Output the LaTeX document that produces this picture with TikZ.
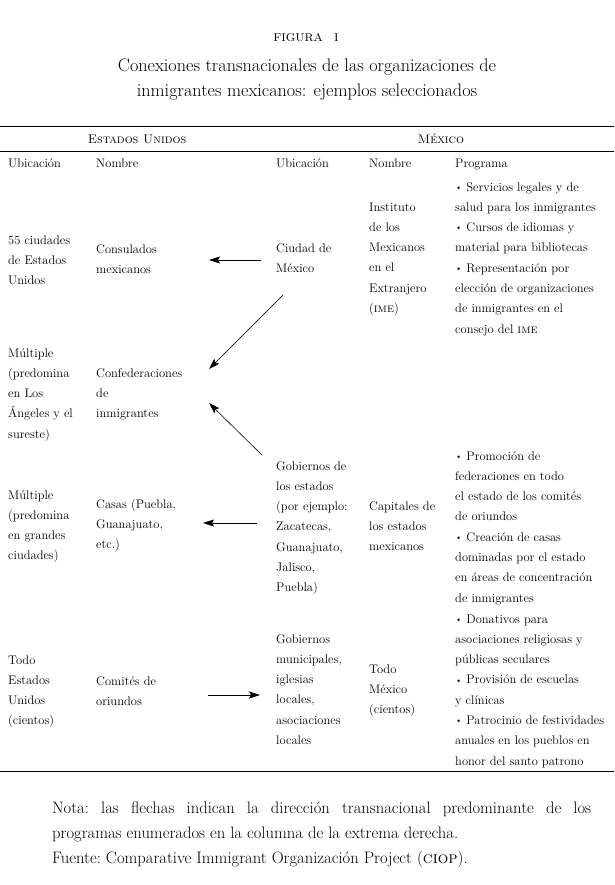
\documentclass[tikz,border=0pt]{standalone}
\usepackage{fontspec}
\usetikzlibrary{arrows.meta}
\tikzset{
  txt/.style={anchor=base west, inner sep=0pt, align=left, font=\fontsize{12.5}{20.3}\selectfont},
  hdr/.style={anchor=base, inner sep=0pt, font=\fontsize{12.5}{14}\selectfont},
  arr/.style={-{Stealth[length=11pt,width=7pt,inset=2pt]}, line width=0.6pt},
  rule/.style={line width=1pt},
}
\newcommand{\bul}{\raisebox{0.15ex}{\scalebox{0.75}{\textbullet}}\ }
\begin{document}
\begin{tikzpicture}[x=1pt,y=-1pt]
\useasboundingbox (0,0) rectangle (614,885);
% title (base anchor = last line for multi-line nodes)
\node[hdr, font=\fontsize{15}{17}\selectfont] (fig) at (306,42) {{\scshape\addfontfeatures{LetterSpace=8}figura\ \ i}};
\node[anchor=base, inner sep=0pt, align=center, font=\fontsize{18.2}{25}\selectfont] (title) at (307,97)
  {Conexiones transnacionales de las organizaciones de\\inmigrantes mexicanos: ejemplos seleccionados};
% rules
\coordinate (r1l) at (0,127); \coordinate (r1r) at (614,127);
\coordinate (r2l) at (0,152); \coordinate (r2r) at (614,152);
\coordinate (r3l) at (0,771); \coordinate (r3r) at (614,771);
\draw[rule] (r1l) -- (r1r);
\draw[rule] (r2l) -- (r2r);
\draw[rule] (r3l) -- (r3r);
% group headers
\node[hdr] (eu) at (137,144) {\textsc{Estados Unidos}};
\node[hdr] (mx) at (441,144) {\textsc{México}};
% column headers
\node[txt] (h1) at (8,168) {Ubicación};
\node[txt] (h2) at (96,168) {Nombre};
\node[txt] (h3) at (276,168) {Ubicación};
\node[txt] (h4) at (369,168) {Nombre};
\node[txt] (h5) at (455,168) {Programa};
% row 1 (coordinates = baseline of the last line)
\node[txt] (u1) at (8,284.6) {55 ciudades\\de Estados\\Unidos};
\node[txt] (n1) at (96,273.3) {Consulados\\mexicanos};
\node[txt] (m1) at (276,272.3) {Ciudad de\\México};
\node[txt] (ime) at (369,312.5) {Instituto\\de los\\Mexicanos\\en el\\Extranjero\\(\textsc{ime})};
\node[txt] (p1) at (455,333.1) {\bul Servicios legales y de\\salud para los inmigrantes\\\bul Cursos de idiomas y\\material para bibliotecas\\\bul Representación por\\elección de organizaciones\\de inmigrantes en el\\consejo del \textsc{ime}};
% row 2
\node[txt] (u2) at (8,438.2) {Múltiple\\(predomina\\en Los\\Ángeles y el\\sureste)};
\node[txt] (n2) at (96,417.6) {Confederaciones\\de\\inmigrantes};
% row 3
\node[txt] (u3) at (8,559.9) {Múltiple\\(predomina\\en grandes\\ciudades)};
\node[txt] (n3) at (96,548.6) {Casas (Puebla,\\Guanajuato,\\etc.)};
\node[txt] (m3) at (276,591.8) {Gobiernos de\\los estados\\(por ejemplo:\\Zacatecas,\\Guanajuato,\\Jalisco,\\Puebla)};
\node[txt] (cap) at (369,550.6) {Capitales de\\los estados\\mexicanos};
\node[txt] (p3) at (455,602.1) {\bul Promoción de\\federaciones en todo\\el estado de los comités\\de oriundos\\\bul Creación de casas\\dominadas por el estado\\en áreas de concentración\\de inmigrantes};
% row 4
\node[txt] (u4) at (8,724.9) {Todo\\Estados\\Unidos\\(cientos)};
\node[txt] (n4) at (96,705.3) {Comités de\\oriundos};
\node[txt] (m4) at (276,744.5) {Gobiernos\\municipales,\\iglesias\\locales,\\asociaciones\\locales};
\node[txt] (tm) at (369,713.6) {Todo\\México\\(cientos)};
\node[txt] (p4) at (455,765.1) {\bul Donativos para\\asociaciones religiosas y\\públicas seculares\\\bul Provisión de escuelas\\y clínicas\\\bul Patrocinio de festividades\\anuales en los pueblos en\\honor del santo patrono};
% arrows
\coordinate (a1s) at (261,260); \coordinate (a1e) at (209,260);
\coordinate (a2s) at (283,295); \coordinate (a2e) at (209,369);
\coordinate (a3s) at (262,455); \coordinate (a3e) at (209,403);
\coordinate (a4s) at (257,523); \coordinate (a4e) at (203,523);
\coordinate (a5s) at (208,695); \coordinate (a5e) at (260,695);
\draw[arr] (a1s) -- (a1e);
\draw[arr] (a2s) -- (a2e);
\draw[arr] (a3s) -- (a3e);
\draw[arr] (a4s) -- (a4e);
\draw[arr] (a5s) -- (a5e);
% note (text width node: base anchor = first line)
\node[anchor=base west, inner sep=0pt, text width=539pt, align=justify, font=\fontsize{16.6}{25}\selectfont\frenchspacing] (nota) at (52,813)
  {Nota: las flechas indican la dirección transnacional predominante de los\linebreak programas enumerados en la columna de la extrema derecha.\\Fuente: Comparative Immigrant Organización Project (\textsc{ciop}).};
\end{tikzpicture}
\end{document}
